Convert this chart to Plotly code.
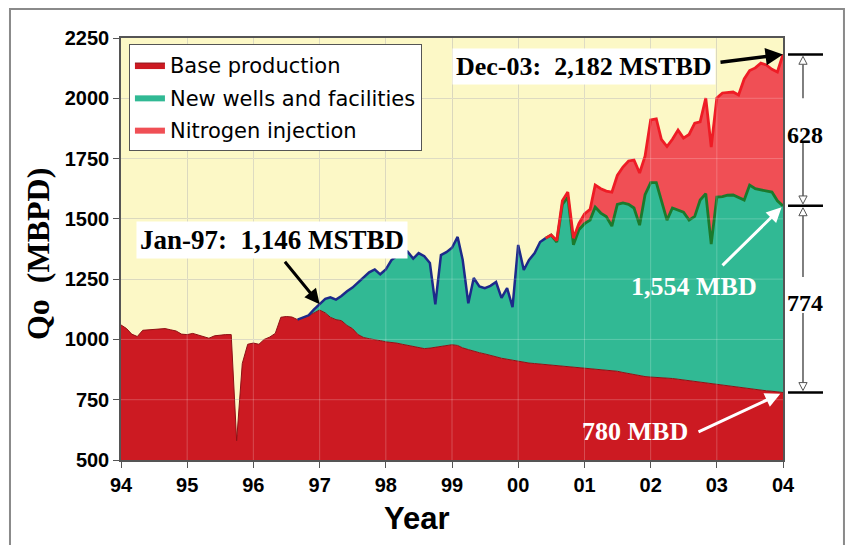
import pandas as pd
import plotly.graph_objects as go

# ---------------- data (monthly, Jan-94 .. Dec-03 plotted to the 04 tick) ----------------
months = pd.date_range("1994-01-01", periods=121, freq="MS")

base_production = [
    1060, 1045, 1022, 1012, 1038, 1040, 1042, 1045, 1045, 1040, 1035, 1022,
    1020, 1025, 1018, 1010, 1005, 1015, 1018, 1020, 1020, 580, 900, 980,
    985, 980, 1000, 1010, 1025, 1092, 1095, 1093, 1082, 1090, 1098, 1110,
    1122, 1110, 1092, 1082, 1078, 1058, 1045, 1020, 1008, 1003, 1000, 995,
    990, 988, 985, 980, 976, 972, 966, 962, 964, 968, 972, 976,
    978, 975, 965, 958, 950, 945, 940, 935, 928, 922, 918, 915,
    908, 905, 902, 900, 898, 896, 894, 892, 890, 888, 886, 884,
    881, 880, 878, 876, 874, 872, 868, 863, 858, 853, 848, 846,
    844, 843, 842, 840, 838, 835, 832, 829, 826, 823, 820, 816,
    812, 809, 806, 804, 801, 798, 796, 793, 790, 787, 785, 782,
    780,
]

# total with new wells and facilities (starts Sep-96)
wells_start = 32
wells_total = [
    1082, 1092, 1100, 1125,
    1146, 1168, 1175, 1165, 1180, 1200, 1215, 1235, 1255, 1278, 1290, 1270,
    1290, 1329, 1345, 1352, 1364, 1335, 1358, 1345, 1317, 1145, 1350, 1362,
    1380, 1425, 1330, 1150, 1255, 1220, 1213, 1222, 1238, 1172, 1213, 1134,
    1392, 1288, 1330, 1358, 1404, 1420, 1433, 1404, 1560, 1590, 1392, 1455,
    1480, 1495, 1549, 1524, 1510, 1470, 1560, 1566, 1560, 1545, 1474, 1600,
    1650, 1650, 1578, 1495, 1545, 1535, 1528, 1495, 1510, 1578, 1605, 1395,
    1590, 1592, 1598, 1599, 1590, 1578, 1640, 1625, 1620, 1615, 1611, 1575,
    1554,
]

# total with nitrogen injection (starts Jun-00)
n2_start = 77
n2_total = [
    1420, 1433, 1410, 1575, 1611, 1420, 1480, 1520, 1540, 1640, 1625, 1615,
    1611, 1680, 1715, 1740, 1744, 1690, 1760, 1910, 1915, 1830, 1800, 1830,
    1868, 1835, 1850, 1897, 1902, 2001, 1798, 2001, 2022, 2024, 2026, 2014,
    2080, 2115, 2126, 2146, 2138, 2120, 2109, 2182,
]

series_names = ["Base production", "New wells and facilities", "Nitrogen injection"]
year_ticks = pd.date_range("1994-01-01", periods=11, freq="12MS")
y_ticks = [500, 750, 1000, 1250, 1500, 1750, 2000, 2250]

JAN97_VALUE = 1146
DEC03_TOTAL = 2182
DEC03_WELLS = 1554
DEC03_BASE = 780

# ---------------- derived full-length stacks ----------------
n = len(months)
wells_pad = [None] * wells_start + wells_total
n2_pad = [None] * n2_start + n2_total
wells_full = [b if w is None else w for b, w in zip(base_production, wells_pad)]
n2_full = [w if v is None else v for w, v in zip(wells_full, n2_pad)]

RED = "#cc1a22"
TEAL = "#31b994"
PINK = "#f04f55"
YELLOW = "#fcf8c6"
SERIF = "Liberation Serif, Times New Roman, serif"
SANS = "Liberation Sans, Arial, sans-serif"

fig = go.Figure()
fig.add_trace(go.Scatter(x=months, y=base_production, mode="lines", fill="tozeroy",
                         fillcolor=RED, line=dict(color="#8e1015", width=1),
                         name=series_names[0], legendgroup="a", hoverinfo="skip"))
fig.add_trace(go.Scatter(x=months, y=wells_full, mode="lines", fill="tonexty",
                         fillcolor=TEAL, line=dict(color=TEAL, width=0),
                         name=series_names[1], legendgroup="b", hoverinfo="skip"))
fig.add_trace(go.Scatter(x=months, y=n2_full, mode="lines", fill="tonexty",
                         fillcolor=PINK, line=dict(color=PINK, width=0),
                         name=series_names[2], legendgroup="c", hoverinfo="skip"))
# outline lines
fig.add_trace(go.Scatter(x=months[wells_start:n2_start + 1], y=wells_total[:n2_start - wells_start + 1],
                         mode="lines", line=dict(color="#1d2a8a", width=2.5), showlegend=False,
                         hoverinfo="skip"))
fig.add_trace(go.Scatter(x=months[n2_start:], y=wells_full[n2_start:],
                         mode="lines", line=dict(color="#1b7a2c", width=2.8), showlegend=False,
                         hoverinfo="skip"))
fig.add_trace(go.Scatter(x=months[n2_start:], y=n2_total,
                         mode="lines", line=dict(color="#ee1c25", width=2.8), showlegend=False,
                         hoverinfo="skip"))

shapes = []
# faint gridlines over the filled areas
for d in year_ticks[1:-1]:
    shapes.append(dict(type="line", xref="x", yref="y", x0=d, x1=d, y0=500, y1=2250,
                       line=dict(color="rgba(255,255,255,0.22)", width=1), layer="above"))
for v in y_ticks[1:-1]:
    shapes.append(dict(type="line", xref="x", yref="y", x0=months[0], x1=months[-1], y0=v, y1=v,
                       line=dict(color="rgba(255,255,255,0.22)", width=1), layer="above"))

# outer frame
shapes.append(dict(type="rect", xref="paper", yref="paper", x0=-0.1677, x1=1.0921, y0=-0.25, y1=1.0687,
                   line=dict(color="#8a8a8a", width=2), fillcolor="rgba(0,0,0,0)"))

# right-hand dimension bars and arrows
for v in (DEC03_TOTAL, DEC03_WELLS, DEC03_BASE):
    shapes.append(dict(type="line", xref="paper", yref="y", x0=1.0076, x1=1.0604, y0=v, y1=v,
                       line=dict(color="black", width=2.5)))

AX = 1.0302
HW = 0.0062
GAP, HEAD = 8, 33


def dim_arrow(tail, bar, up):
    s = 1 if up else -1
    apex = bar - s * GAP
    hb = bar - s * (GAP + HEAD)
    shapes.append(dict(type="line", xref="paper", yref="y", x0=AX, x1=AX, y0=tail, y1=hb,
                       line=dict(color="#555", width=1.5)))
    shapes.append(dict(type="path", xref="paper", yref="y",
                       path=f"M {AX - HW},{hb} L {AX + HW},{hb} L {AX},{apex} Z",
                       line=dict(color="#555", width=1), fillcolor="white"))


dim_arrow(2000, DEC03_TOTAL, True)
dim_arrow(1815, DEC03_WELLS, False)
dim_arrow(1259, DEC03_WELLS, True)
dim_arrow(1110, DEC03_BASE, False)


def label(text, x, y, size, color="black", family=SERIF, bg=None, angle=0):
    d = dict(text=text, xref="paper", yref="paper", x=x, y=y, xanchor="center", yanchor="middle",
             showarrow=False, textangle=angle,
             font=dict(family=family, size=size, color=color, weight="bold"))
    if bg:
        d.update(bgcolor=bg, borderpad=3)
    return d


def arrow(x, y, ax, ay, color, width, standoff=0):
    return dict(text="", x=x, y=y, xref="x", yref="y", ax=ax, ay=ay, standoff=standoff,
                showarrow=True, arrowhead=2, arrowsize=1, arrowwidth=width, arrowcolor=color)


annotations = [
    label("Jan-97:  1,146 MSTBD", 0.228, 0.5213, 27, bg="white"),
    arrow(months[36], JAN97_VALUE, -36, -44, "black", 3),
    label("Dec-03:  2,182 MSTBD", 0.6994, 0.9336, 26, bg="white"),
    arrow(months[-1], DEC03_TOTAL, -64, 8, "black", 3.5),
    label("1,554 MBD", 0.8656, 0.4123, 26, color="white"),
    arrow(months[-1], DEC03_WELLS, -62, 61, "white", 3, 2),
    label("780 MBD", 0.7764, 0.0664, 26, color="white"),
    arrow(months[-1], DEC03_BASE, -86, 40, "white", 3, 3),
    label(f"{DEC03_TOTAL - DEC03_WELLS}", 1.0332, 0.7701, 24),
    label(f"{DEC03_WELLS - DEC03_BASE}", 1.0332, 0.372, 24),
    label("Qo  (MBPD)", -0.1254, 0.488, 32, angle=-90),
    label("Year", 0.447, -0.1398, 31, family=SANS),
]

fig.update_layout(
    width=850, height=545,
    margin=dict(l=121, r=67, t=38, b=85),
    paper_bgcolor="white", plot_bgcolor=YELLOW,
    showlegend=True,
    legend=dict(x=0.012, y=0.986, xanchor="left", yanchor="top",
                bgcolor="white", bordercolor="#555", borderwidth=1,
                traceorder="grouped", tracegroupgap=2,
                font=dict(family="DejaVu Sans, Verdana, sans-serif", size=21, color="black")),
    shapes=shapes, annotations=annotations,
)
fig.update_xaxes(type="date", range=[months[0], months[-1]], tickvals=year_ticks, tickformat="%y",
                 showgrid=True, gridcolor="#d6d3b4", gridwidth=1,
                 ticks="outside", ticklen=6, tickcolor="#555",
                 showline=True, linecolor="#555", linewidth=1.5, mirror=True,
                 tickfont=dict(family=SANS, size=20, color="black", weight="bold"), zeroline=False)
fig.update_yaxes(range=[500, 2250], tickvals=y_ticks,
                 showgrid=True, gridcolor="#d6d3b4", gridwidth=1,
                 ticks="outside", ticklen=6, tickcolor="#555",
                 showline=True, linecolor="#555", linewidth=1.5, mirror=True,
                 tickfont=dict(family=SANS, size=20, color="black", weight="bold"), zeroline=False)

fig.write_html("out.html", config={"displayModeBar": False},
               post_script="document.body.style.margin='0';")
